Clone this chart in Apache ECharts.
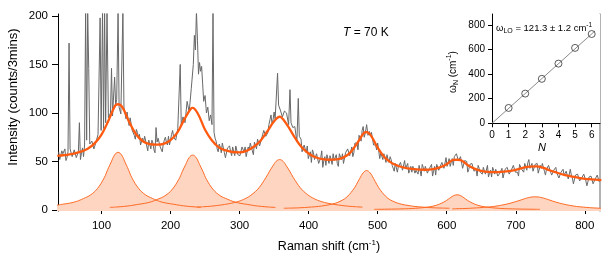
<!DOCTYPE html>
<html><head><meta charset="utf-8">
<script src="https://cdn.jsdelivr.net/npm/echarts@6/dist/echarts.min.js"></script>
<style>html,body{margin:0;padding:0;background:#fff}#c{width:616px;height:261px}</style>
</head><body><div id="c"></div>
<script>
// ---- measured spectrum (Raman shift, counts), main samples ----
const ramanX = [38,41,44,47,50,53,56,59,62,65,68,71,74,77,78.5,80,81.5,83,86,89,92,95,98,99.5,101.5,103,104.5,106,108,110,113,114.5,116,119,120.5,122,124,125.5,128,131,132.5,134,137,140,143,146,149,152,155,158,161,164,167,170,173,176,179,182,185,188,191,194,197,200,203,206,209,212,214,215.5,218,221,224,227,230,233,234.5,236,237.5,239,240.5,242,243.5,245,246.5,248,250,252,254,256,258,260,261.5,263,266,269,272,275,278,281,284,287,290,293,296,299,302,305,308,311,314,317,320,323,326,329,332,335,338,341,344,347,350,353,355,356.5,359,362,365,368,371,373,374.5,377,380,383,385,386.5,389,392,395,398,401,404,407,410,413,416,419,422,425,428,431,434,437,440,443,446,449,452,455,458,461,464,467,470,473,476,479,482,484,486,488,491,494,497,500,503,506,509,512,515,518,521,524,527,530,533,536,539,542,545,548,551,554,557,560,563,566,569,572,575,578,581,584,587,590,593,596,599,602,605,608,611,614,617,620,623,626,629,632,635,638,641,644,647,650,653,656,659,662,665,668,671,674,677,680,683,686,689,692,695,698,701,704,707,710,713,716,719,722,725,728,731,734,737,740,743,746,749,752,755,758,761,764,767,770,773,776,779,782,785,788,791,794,797,800,803,806,809,812,815,818,821];
const ramanY = [60,51,58,63,54,172,61,58,64,55,90,59,55,205,72,205,146,68,71,63,70,78,198,82,205,84,205,90,205,95,100,146,97,137,108,114,205,106,99,205,106,100,101,87,95,82,73,80,78,67,70,75,61,71,72,62,85,74,65,60,72,70,76,68,82,76,73,86,150,88,96,90,112,101,125,150,180,165,205,175,140,152,143,148,130,112,118,100,106,92,98,88,205,80,71,60,65,69,59,53,64,60,65,56,68,58,54,63,65,56,62,69,57,70,73,66,74,82,76,80,93,89,101,96,141,108,103,96,102,100,88,124,90,85,86,70,115,76,73,58,63,66,55,49,59,54,59,49,61,51,46,55,56,47,51,57,45,56,58,50,58,64,57,55,69,69,77,71,86,79,88,77,81,80,67,67,69,53,61,58,49,52,55,46,40,48,45,49,41,51,42,38,45,45,38,41,46,35,44,45,38,43,47,40,36,45,44,49,43,54,47,45,53,55,58,51,55,43,51,50,42,46,49,41,35,43,40,44,37,46,38,34,41,42,35,38,43,33,42,43,36,42,46,40,35,45,43,48,41,52,44,40,47,48,40,43,47,36,44,44,36,41,44,36,31,39,36,40,32,42,33,29,36,36,29,32,36,25,34,35,27,32,36,29];
// ---- measured spectrum, in-between samples ----
const ramanX2 = [39.5,42.5,45.5,48.5,51.5,54.5,57.5,60.5,63.5,66.5,69.5,72.5,75.5,
135.5,138.5,141.5,144.5,147.5,150.5,153.5,156.5,159.5,162.5,165.5,168.5,171.5,174.5,177.5,180.5,183.5,186.5,189.5,192.5,195.5,198.5,201.5,204.5,207.5,210.5,
264.5,267.5,270.5,273.5,276.5,279.5,282.5,285.5,288.5,291.5,294.5,297.5,300.5,303.5,306.5,309.5,312.5,315.5,318.5,321.5,324.5,327.5,330.5,333.5,336.5,339.5,342.5,345.5,348.5,351.5,
390.5,393.5,396.5,399.5,402.5,405.5,408.5,411.5,414.5,417.5,420.5,423.5,426.5,429.5,432.5,435.5,438.5,441.5,444.5,447.5,450.5,453.5,456.5,459.5,462.5,465.5,468.5,471.5,474.5,477.5,480.5,
489.5,492.5,495.5,498.5,501.5,504.5,507.5,510.5,513.5,516.5,519.5,522.5,525.5,528.5,531.5,534.5,537.5,540.5,543.5,546.5,549.5,552.5,555.5,558.5,561.5,564.5,567.5,570.5,573.5,576.5,579.5,582.5,585.5,588.5,591.5,594.5,597.5,600.5,603.5,606.5,609.5,612.5,615.5,618.5,621.5,624.5,627.5,630.5,633.5,636.5,639.5,642.5,645.5,648.5,651.5,654.5,657.5,660.5,663.5,666.5,669.5,672.5,675.5,678.5,681.5,684.5,687.5,690.5,693.5,696.5,699.5,702.5,705.5,708.5,711.5,714.5,717.5,720.5,723.5,726.5,729.5,732.5,735.5,738.5,741.5,744.5,747.5,750.5,753.5,756.5,759.5,762.5,765.5,768.5,771.5,774.5,777.5,780.5,783.5,786.5,789.5,792.5,795.5,798.5,801.5,804.5,807.5,810.5,813.5,816.5,819.5];
const ramanY2 = [52,61,56,51,60,63,55,62,54,60,52,64,67,
94,93,95,82,77,83,75,67,74,76,66,72,63,69,59,70,73,64,68,75,67,67,78,75,72,84,
74,63,68,59,64,54,64,66,56,60,66,57,56,65,60,55,65,69,61,70,63,71,64,78,83,76,88,98,93,94,
60,67,59,53,60,62,52,58,48,54,44,55,57,48,52,58,49,48,58,52,48,59,63,56,65,59,68,62,76,82,75,
77,80,67,62,68,59,52,56,57,49,52,44,48,39,47,49,41,43,48,41,39,46,41,37,44,47,40,45,38,43,35,45,47,41,44,50,44,45,53,49,46,54,57,50,54,45,49,39,47,48,40,42,46,39,37,44,39,34,41,44,37,42,35,40,33,42,44,37,41,46,39,39,47,42,39,46,49,43,48,41,46,38,46,48,40,42,46,39,37,43,38,33,39,42,34,39,31,36,27,36,37,30,33,37,30,29,36,31,26,33,36];

// ---- total fit ----
const fitX = [36,40,50,60,70,80,90,100,110,120,124,130,140,150,160,170,180,190,200,210,220,230,232,240,250,260,270,280,290,300,310,320,330,340,350,358,360,370,380,390,400,410,420,430,440,450,460,470,480,484,490,500,510,520,530,540,550,560,570,580,590,600,610,615,620,630,640,650,660,670,680,690,700,710,720,730,740,750,760,770,780,790,800,810,820,824];
const fitY = [55.9,56.2,56.9,58.1,60.1,63.1,68.7,77.7,92.0,107.8,109.0,106.3,90.9,78.1,70.9,67.8,67.3,68.2,72.0,80.0,93.4,104.9,105.3,98.7,82.7,71.6,64.5,61.5,59.8,59.5,61.0,64.9,71.2,80.9,91.4,96.1,95.8,86.5,74.7,64.7,58.3,54.4,52.5,51.8,52.2,54.0,58.9,68.5,79.3,80.2,76.9,64.2,54.3,48.6,45.4,43.4,42.4,41.6,41.5,42.1,43.9,47.3,51.7,51.8,51.4,46.5,42.7,40.4,39.3,39.1,39.4,40.0,41.4,43.4,44.8,45.0,43.4,40.7,38.4,36.2,34.7,33.3,32.2,31.6,31.0,30.8];

// ---- fitted components ----
const p1X = [34,44,54,64,74,84,94,104,109,114,119,124,129,134,139,144,154,164,174,184,194,204,214,224,234,244];
const p1Y = [4.8,6.0,7.1,8.9,11.9,15.5,22.0,33.3,41.7,49.4,56.8,59.5,56.8,49.4,41.7,33.3,22.0,15.5,11.9,8.9,7.1,6.0,4.8,3.9,3.3,2.8];
const p2X = [112,122,132,142,152,162,172,182,192,202,212,217,222,227,232,237,242,247,252,262,272,282,292,302,312,322,332,342,352];
const p2Y = [2.7,3.1,3.7,4.5,5.7,6.8,8.5,11.3,14.7,20.9,31.7,39.6,47.0,54.1,56.6,54.1,47.0,39.6,31.7,20.9,14.7,11.3,8.5,6.8,5.7,4.5,3.7,3.1,2.7];
const p3X = [238,248,258,268,278,288,298,308,318,328,338,343,348,353,358,363,368,373,378,388,398,408,418,428,438,448,458,468,478];
const p3Y = [3.0,3.4,3.9,4.7,5.7,7.0,8.8,11.7,16.1,22.9,33.3,39.5,45.2,50.2,52.0,50.2,45.2,39.5,33.3,22.9,16.1,11.7,8.8,7.0,5.7,4.7,3.9,3.4,3.0];
const p4X = [364,374,384,394,404,414,424,434,444,454,464,469,474,479,484,489,494,499,504,514,524,534,544,554,564,574,584,594,604];
const p4Y = [1.8,2.0,2.2,2.6,3.1,3.7,4.7,6.1,8.5,12.6,20.4,26.0,32.6,38.3,40.7,38.3,32.6,26.0,20.4,12.6,8.5,6.1,4.7,3.7,3.1,2.6,2.2,2.0,1.8];
const p5X = [495,505,515,525,535,545,555,565,575,585,595,600,605,610,615,620,625,630,635,645,655,665,675,685,695,705,715,725,735];
const p5Y = [0.7,0.8,0.9,1.0,1.2,1.4,1.8,2.4,3.3,4.9,7.9,10.0,12.6,14.8,15.7,14.8,12.6,10.0,7.9,4.9,3.3,2.4,1.8,1.4,1.2,1.0,0.9,0.8,0.7];
const p6X = [608,618,628,638,648,658,668,678,688,698,708,713,718,723,728,733,738,743,748,758,768,778,788,798,808,818,828,838,848];
const p6Y = [1.2,1.4,1.6,2.0,2.4,3.0,3.7,4.8,6.3,8.2,10.5,11.7,12.7,13.4,13.6,13.4,12.7,11.7,10.5,8.2,6.3,4.8,3.7,3.0,2.4,2.0,1.6,1.4,1.2];

// ---- inset: phonon order vs frequency ----
const insetN = [1,2,3,4,5,6];
const insetW = [125,242,362,486,614,727];
const insetLineN = [0,6.2];
const insetLineW = [0,752];

// ---- tick labels ----
const xTicks = [100,200,300,400,500,600,700,800];
const yTicks = [0,50,100,150,200];
const insetXTicks = [0,1,2,3,4,5,6];
const insetYTicks = [0,200,400,600,800];

const FF = '"Liberation Sans", Arial, Helvetica, sans-serif';
const zip = (a,b) => a.map((v,i)=>[v,b[i]]);
const spectrum = zip(ramanX,ramanY).concat(zip(ramanX2,ramanY2)).sort((a,b)=>a[0]-b[0]);
const peakFill = '#fdd5c1', peakLine = '#ff6a24';
function peak(xs, ys){
  return {type:'line', xAxisIndex:0, yAxisIndex:0, data:zip(xs,ys), smooth:0.4, symbol:'none',
    lineStyle:{color:peakLine,width:1}, areaStyle:{color:peakFill,opacity:1,origin:'start'}, silent:true};
}
const chart = echarts.init(document.getElementById('c'), null, {renderer:'canvas'});
const axBlack = {lineStyle:{color:'#000',width:1}};
chart.setOption({
  animation:false,
  backgroundColor:'#fff',
  grid:[
    {left:58, top:14, width:542, height:197, show:false},
    {left:492, top:14, width:108, height:109.3, show:true, backgroundColor:'#fff', borderWidth:0, z:5}
  ],
  xAxis:[
    {gridIndex:0, type:'value', min:37, max:822, axisLine:axBlack,
     axisTick:{length:4, customValues:xTicks, lineStyle:{color:'#000'}},
     axisLabel:{customValues:xTicks, fontSize:11.5, color:'#000', margin:9, fontFamily:FF},
     splitLine:{show:false}},
    {gridIndex:0, type:'value', position:'top', min:37, max:822, axisLine:axBlack,
     axisTick:{show:false}, axisLabel:{show:false}, splitLine:{show:false}},
    {gridIndex:1, type:'value', min:0, max:6.5, axisLine:axBlack, z:6,
     axisTick:{length:4, customValues:insetXTicks, lineStyle:{color:'#000'}},
     axisLabel:{customValues:insetXTicks, fontSize:10, color:'#000', margin:7, fontFamily:FF},
     splitLine:{show:false}}
  ],
  yAxis:[
    {gridIndex:0, type:'value', min:-1, max:202, axisLine:{show:true,lineStyle:{color:'#000',width:1}},
     axisTick:{show:true,length:6, customValues:yTicks, lineStyle:{color:'#000'}},
     axisLabel:{customValues:yTicks, fontSize:11.5, color:'#000', margin:10, fontFamily:FF},
     splitLine:{show:false}},
    {gridIndex:0, type:'value', position:'right', min:-1, max:202, axisLine:{show:true,lineStyle:{color:'#999',width:1.5}},
     axisTick:{show:false}, axisLabel:{show:false}, splitLine:{show:false}},
    {gridIndex:1, type:'value', min:0, max:890, axisLine:{show:true,lineStyle:{color:'#000',width:1}}, z:6,
     axisTick:{show:true,length:4, customValues:insetYTicks, lineStyle:{color:'#000'}},
     axisLabel:{customValues:insetYTicks, fontSize:10, color:'#000', margin:7, fontFamily:FF},
     splitLine:{show:false}}
  ],
  series:[
    peak(p1X,p1Y), peak(p2X,p2Y), peak(p3X,p3Y), peak(p4X,p4Y), peak(p5X,p5Y), peak(p6X,p6Y),
    {type:'line', xAxisIndex:0, yAxisIndex:0, data:spectrum, symbol:'none', smooth:false,
     lineStyle:{color:'#686868', width:1}, silent:true},
    {type:'line', xAxisIndex:0, yAxisIndex:0, data:zip(fitX,fitY), symbol:'none', smooth:0.4,
     lineStyle:{color:'#ff5a10', width:2.3}, silent:true},
    {type:'line', xAxisIndex:2, yAxisIndex:2, data:zip(insetLineN,insetLineW), symbol:'none',
     lineStyle:{color:'#8a8a8a', width:1}, z:7, silent:true},
    {type:'scatter', xAxisIndex:2, yAxisIndex:2, data:zip(insetN,insetW), symbol:'circle', symbolSize:7,
     itemStyle:{color:'rgba(0,0,0,0)', borderColor:'#333', borderWidth:1}, z:8, silent:true}
  ],
  graphic:[
    {type:'text', x:13, y:97, rotation:Math.PI/2,
     style:{text:'Intensity (counts/3mins)', font:'13px '+FF, fill:'#000', textAlign:'center', textVerticalAlign:'middle', align:'center', verticalAlign:'middle'}},
    {type:'text', x:329, y:247,
     style:{text:'Raman shift (cm{sup|-1})', font:'12.5px '+FF, fill:'#000', textAlign:'center', textVerticalAlign:'middle', align:'center', verticalAlign:'middle',
       lineHeight:16, rich:{sup:{fontSize:8, lineHeight:8, verticalAlign:'top', fontFamily:FF}}}},
    {type:'text', x:343, y:33,
     style:{text:'{i|T} = 70 K', font:'12px '+FF, fill:'#000', textAlign:'left', textVerticalAlign:'middle', align:'left', verticalAlign:'middle',
       rich:{i:{fontStyle:'italic', fontSize:12, fontFamily:FF}}}},
    {type:'text', x:496, y:28, z:20,
     style:{text:'ω{sub|LO} = 121.3 ± 1.2 cm{sup|-1}', font:'9.5px '+FF, fill:'#000', textAlign:'left', textVerticalAlign:'middle', align:'left', verticalAlign:'middle',
       lineHeight:13, rich:{sub:{fontSize:7, lineHeight:7, verticalAlign:'bottom', fontFamily:FF}, sup:{fontSize:6.5, lineHeight:6.5, verticalAlign:'top', fontFamily:FF}}}},
    {type:'text', x:453, y:72, rotation:Math.PI/2, z:20,
     style:{text:'ω{sub|N} (cm{sup|-1})', font:'10px '+FF, fill:'#000', textAlign:'center', textVerticalAlign:'middle', align:'center', verticalAlign:'middle',
       lineHeight:14, rich:{sub:{fontSize:7, lineHeight:7, verticalAlign:'bottom', fontFamily:FF}, sup:{fontSize:7, lineHeight:7, verticalAlign:'top', fontFamily:FF}}}},
    {type:'text', x:542, y:148, z:20,
     style:{text:'N', font:'italic 11px '+FF, fill:'#000', textAlign:'center', textVerticalAlign:'middle', align:'center', verticalAlign:'middle'}}
  ]
});
</script></body></html>
